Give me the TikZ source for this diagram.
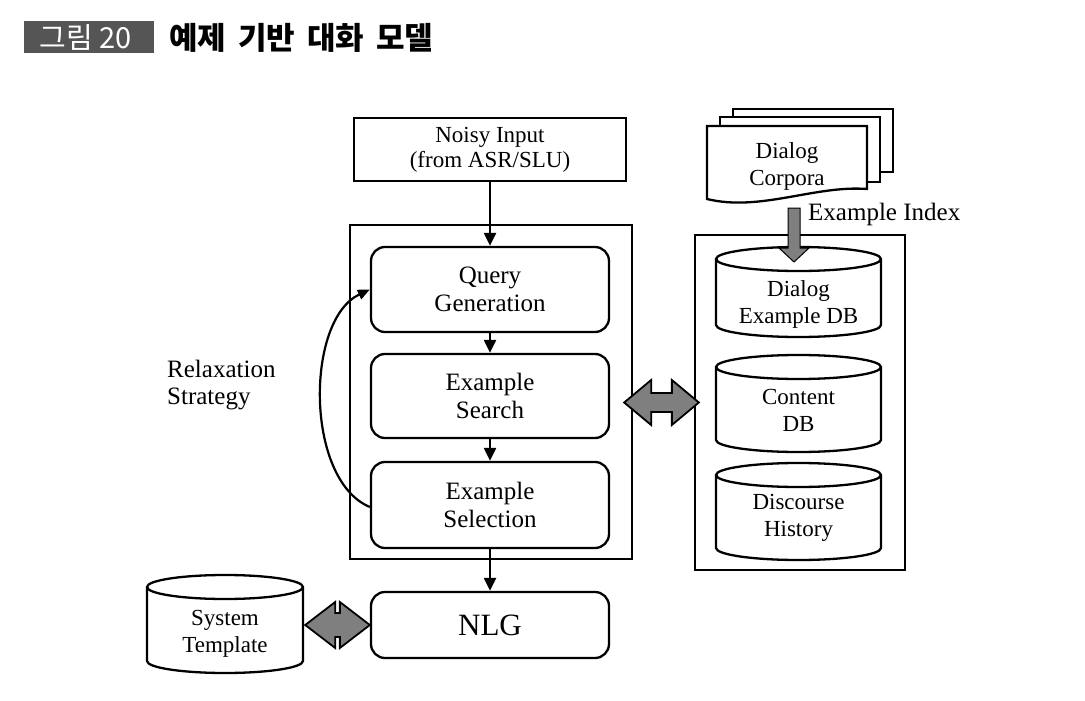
\documentclass[tikz,border=0pt]{standalone}
\usepackage{fontspec}
\setmainfont{Liberation Serif}
\newfontfamily\krfont{Noto Sans CJK KR}
\usetikzlibrary{arrows.meta,calc}
\definecolor{arrowgray}{HTML}{7F7F7F}
\definecolor{bannergray}{HTML}{555555}
\tikzset{
  boxline/.style={line width=2.3pt},
  sqbox/.style={draw, boxline, rectangle, inner sep=0pt, align=center, font=\fontsize{23}{25}\selectfont},
  rbox/.style={draw, boxline, rounded corners=14pt, inner sep=0pt, align=center, font=\fontsize{25}{28}\selectfont},
  framebox/.style={draw, boxline, inner sep=0pt},
  ghost/.style={inner sep=0pt},
  flow/.style={line width=2.2pt, -{Triangle[length=13pt,width=12pt]}},
  cyltext/.style={align=center, font=\fontsize{23}{27}\selectfont, inner sep=0pt},
  fatarrow/.style={draw, line width=1.8pt, fill=arrowgray, line join=miter},
}
\newcommand{\cylshape}[4]{%
  \pgfmathsetmacro{\cxr}{(#2-#1)/2}%
  \draw[boxline, fill=white] (#1,#4-12) arc[start angle=180,end angle=360,x radius=\cxr pt,y radius=12pt] -- (#2,#3+12) arc[start angle=0,end angle=180,x radius=\cxr pt,y radius=12pt] -- cycle;
  \draw[boxline] (#1,#3+12) arc[start angle=180,end angle=360,x radius=\cxr pt,y radius=12pt];
}
\newcommand{\dblarrow}[5]{%
  \draw[fatarrow] let \p1=(#1), \p2=(#2) in
    (\x1,\y1) -- (\x1+#3,\y1+#4) -- (\x1+#3,\y1+#5) -- (\x2-#3,\y1+#5) -- (\x2-#3,\y1+#4) -- (\x2,\y1)
    -- (\x2-#3,\y1-#4) -- (\x2-#3,\y1-#5) -- (\x1+#3,\y1-#5) -- (\x1+#3,\y1-#4) -- cycle;
}
\begin{document}
\begin{tikzpicture}[x=1pt,y=-1pt]
\useasboundingbox (0,0) rectangle (1085,701);
% title
\fill[bannergray] (24,21) rectangle (154,53);
\node[ghost, text=white, font=\krfont\fontsize{29}{32}\selectfont] (fig) at (86,37.5) {그림 20};
\node[ghost, anchor=west, font=\krfont\bfseries\fontsize{31}{34}\selectfont] (title) at (169,38) {예제\hspace{12pt}기반\hspace{12pt}대화\hspace{12pt}모델};

% main column
\node[sqbox, minimum width=272pt, minimum height=63pt] (noisy) at (490,149.5) {Noisy Input\\(from ASR/SLU)};
\node[framebox, minimum width=282pt, minimum height=334pt] (mainframe) at (491,392) {};
\node[rbox, minimum width=238pt, minimum height=85pt] (qg) at (490,289.5) {Query\\Generation};
\node[rbox, minimum width=238pt, minimum height=84pt] (es) at (490,396) {Example\\Search};
\node[rbox, minimum width=238pt, minimum height=86pt] (sel) at (490,505) {Example\\Selection};
\node[rbox, minimum width=238pt, minimum height=66pt, font=\fontsize{31}{34}\selectfont] (nlg) at (490,625) {NLG};

\draw[flow] (noisy.south) -- (qg.north);
\draw[flow] (qg.south) -- (es.north);
\draw[flow] (es.south) -- (sel.north);
\draw[flow] (sel.south) -- (nlg.north);

\draw[line width=2.2pt, -{Triangle[length=12pt,width=10pt]}] ([yshift=-2pt]sel.west) .. controls (305,480) and (305,320) .. (qg.west);
\node[ghost, anchor=west, align=left, font=\fontsize{25}{27}\selectfont] (relax) at (167,385) {Relaxation\\Strategy};

% right frame and databases
\node[framebox, minimum width=210pt, minimum height=335pt] (rightframe) at (800,402.5) {};
\cylshape{716}{881}{247}{337}
\node[cyltext] (dedb) at (798.5,304) {Dialog\\Example DB};
\cylshape{716}{881}{355}{452}
\node[cyltext] (cdb) at (798.5,410.5) {Content\\DB};
\cylshape{716}{881}{463}{560}
\node[cyltext] (dh) at (798.5,518) {Discourse\\History};

% dialog corpora
\draw[boxline, fill=white] (733,109) rectangle (893,172);
\draw[boxline, fill=white] (720,117) rectangle (880,182);
\draw[boxline, fill=white] (707,126) -- (867,126) -- (867,189) .. controls (815,185) and (760,212) .. (707,199) -- cycle;
\node[cyltext] (corp) at (787,166) {Dialog\\Corpora};

\coordinate (eiTop) at (794,208);
\coordinate (eiTip) at (794,262);
\draw[fatarrow, line width=1pt] let \p1=(eiTop), \p2=(eiTip) in
  (\x1-6pt,\y1) -- (\x1-6pt,\y2+14pt) -- (\x1-15pt,\y2+14pt) -- (\x2,\y2) -- (\x1+15pt,\y2+14pt) -- (\x1+6pt,\y2+14pt) -- (\x1+6pt,\y1) -- cycle;
\node[ghost, anchor=west, font=\fontsize{25}{27}\selectfont] (eilabel) at (808,214) {Example Index};

% system template
\cylshape{147}{303}{575}{673}
\node[ghost, minimum width=156pt, minimum height=98pt] (stc) at (225,624) {};
\node[cyltext] (st) at (225,634) {System\\Template};

% double arrows
\path ([xshift=-9pt]mainframe.east) coordinate (m1);
\coordinate (da1) at (m1 |- rightframe.west);
\path ([xshift=5pt]rightframe.west) coordinate (da2);
\dblarrow{da1}{da2}{27pt}{22.5pt}{9.5pt}

\path ([xshift=2pt]stc.east) coordinate (s1);
\coordinate (db1) at (s1 |- nlg.west);
\dblarrow{db1}{nlg.west}{30pt}{23pt}{12pt}
\end{tikzpicture}
\end{document}
